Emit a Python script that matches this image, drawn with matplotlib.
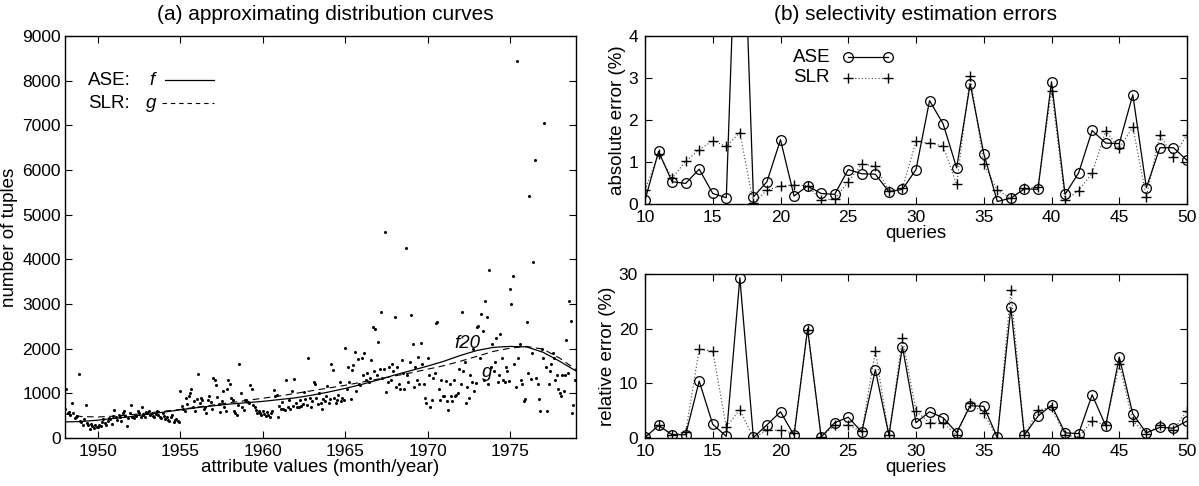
import matplotlib
matplotlib.use("Agg")
import matplotlib.pyplot as plt
import numpy as np

plt.rcParams['font.family'] = ['Liberation Sans', 'DejaVu Sans']
plt.rcParams['font.size'] = 12.5

# ---- (a) monthly tuple counts, Jan 1948 .. Dec 1978 (one row per year) ----
counts = [
    640, 1090, 560, 590, 520, 780, 560, 450, 480, 500, 1440, 380,      # 1948
    350, 300, 420, 750, 330, 280, 200, 310, 260, 230, 280, 250,        # 1949
    240, 300, 260, 350, 420, 330, 300, 380, 450, 420, 320, 500,        # 1950
    620, 480, 400, 520, 460, 380, 550, 600, 500, 270, 450, 550,        # 1951
    730, 480, 450, 520, 500, 600, 560, 470, 690, 520, 480, 580,        # 1952
    560, 600, 520, 560, 500, 480, 540, 600, 520, 470, 450, 560,        # 1953
    500, 420, 460, 400, 380, 480, 520, 350, 400, 420, 380, 360,        # 1954
    1050, 720, 650, 600, 900, 760, 950, 1000, 1100, 700, 820, 600,     # 1955
    880, 1440, 780, 900, 850, 650, 700, 570, 850, 950, 800, 660,       # 1956
    1350, 1300, 1180, 920, 760, 580, 820, 1050, 700, 600, 1100, 1300,  # 1957
    1200, 900, 850, 600, 560, 520, 750, 1660, 1000, 700, 620, 850,     # 1958
    850, 800, 780, 1180, 1100, 750, 700, 620, 560, 600, 550, 520,      # 1959
    600, 540, 500, 580, 520, 480, 560, 600, 1080, 950, 960, 480,       # 1960
    720, 660, 800, 640, 620, 1290, 700, 860, 640, 1050, 720, 1310,     # 1961
    780, 700, 690, 860, 720, 760, 1020, 870, 740, 1780, 900, 700,      # 1962
    820, 1260, 1200, 900, 760, 1000, 780, 640, 870, 820, 950, 1160,    # 1963
    780, 880, 1660, 1520, 900, 780, 850, 960, 1250, 820, 900, 860,     # 1964
    2020, 1100, 1600, 1260, 880, 1520, 1640, 1920, 1050, 1760, 1200, 1180,  # 1965
    1780, 1400, 1900, 1300, 1450, 1250, 1350, 1740, 2480, 1500, 2440, 1400,  # 1966
    2140, 1550, 2820, 1350, 1550, 4620, 1030, 1250, 1600, 1300, 1650, 1500,  # 1967
    2720, 1150, 1600, 1200, 1100, 1750, 1450, 1100, 4250, 1400, 1250, 1700,  # 1968
    2750, 2100, 1150, 1600, 1300, 1810, 1200, 2120, 1650, 1200, 900, 780,    # 1969
    1800, 1400, 700, 850, 1350, 1450, 2570, 2600, 1100, 850, 1300, 930,      # 1970
    940, 1270, 830, 620, 1200, 930, 820, 1300, 950, 960, 1000, 1550,         # 1971
    1200, 2830, 1500, 1700, 780, 1150, 900, 1400, 1250, 2000, 1050, 1230,    # 1972
    2480, 2500, 1800, 2780, 2400, 1300, 3070, 2700, 1200, 3770, 1600, 2100,  # 1973
    1500, 1700, 2250, 1250, 1400, 2330, 1800, 1300, 1250, 1600, 1500, 1280,  # 1974
    3340, 2990, 3620, 1650, 1150, 8440, 1800, 2100, 1300, 1200, 830, 880,    # 1975
    2590, 1450, 5420, 1330, 1900, 3930, 6230, 1350, 1200, 870, 610, 2000,    # 1976
    1800, 7050, 1600, 610, 1200, 1500, 1650, 1900, 1800, 1300, 1400, 1100,   # 1977
    1000, 950, 1400, 1050, 1400, 2200, 1450, 3070, 2630, 550, 740, 1300,     # 1978
]
start_year = 1948

# approximating curves, one value per year 1948..1979
curve_years = list(range(1948, 1980))
f_curve = [360, 370, 400, 440, 480, 530, 580, 630, 680, 720, 760, 790, 820, 860,
           900, 960, 1030, 1110, 1200, 1300, 1410, 1510, 1610, 1720, 1850, 1960,
           2030, 2050, 2040, 1920, 1720, 1500]
g_curve = [540, 480, 470, 490, 520, 560, 600, 640, 690, 740, 790, 840, 890, 940,
           1000, 1060, 1120, 1180, 1250, 1320, 1390, 1460, 1540, 1620, 1720, 1830,
           1940, 2010, 2050, 1990, 1790, 1530]

# ---- (b) selectivity estimation errors, queries 10..50 ----
queries = list(range(10, 51))
ase_abs = [0.09, 1.25, 0.53, 0.49, 0.83, 0.25, 0.15, 9.5, 0.17, 0.53, 1.53, 0.19,
           0.43, 0.25, 0.23, 0.82, 0.72, 0.71, 0.29, 0.35, 0.82, 2.46, 1.91, 0.86,
           2.86, 1.2, 0.06, 0.14, 0.36, 0.35, 2.91, 0.23, 0.74, 1.75, 1.45, 1.44,
           2.6, 0.39, 1.34, 1.34, 1.04]
slr_abs = [0.33, 1.2, 0.61, 1.02, 1.29, 1.51, 1.37, 1.7, 0.02, 0.33, 0.43, 0.45,
           0.44, 0.09, 0.12, 0.53, 0.95, 0.9, 0.32, 0.37, 1.49, 1.45, 1.38, 0.47,
           3.05, 0.96, 0.33, 0.14, 0.37, 0.41, 2.7, 0.09, 0.32, 0.73, 1.74, 1.33,
           1.83, 0.17, 1.65, 1.12, 1.65]
ase_rel = [0.1, 2.3, 0.6, 0.6, 10.4, 2.5, 0.3, 29.3, 0.1, 2.4, 4.8, 0.5, 20.0,
           0.2, 2.8, 3.8, 1.1, 12.5, 0.5, 16.7, 2.8, 4.8, 3.7, 1.0, 5.9, 5.8, 0.1,
           23.9, 0.5, 4.0, 6.0, 0.95, 0.8, 7.9, 2.25, 14.8, 4.4, 0.95, 1.95, 1.8, 3.1]
slr_rel = [0.1, 2.3, 0.6, 1.1, 16.2, 15.9, 2.0, 5.2, 0.0, 1.4, 1.4, 0.9, 19.7,
           0.2, 2.3, 2.4, 1.2, 15.9, 0.5, 18.3, 4.9, 2.8, 2.8, 0.5, 6.4, 4.5, 0.0,
           27.1, 0.5, 5.1, 5.6, 0.5, 0.2, 3.1, 2.4, 13.5, 3.1, 0.8, 2.4, 1.5, 5.0]

W, H = 1199, 486
fig = plt.figure(figsize=(W / 100, H / 100), dpi=100)


def box(l, t, r, b):
    return [l / W, 1 - b / H, (r - l) / W, (b - t) / H]


def style(ax, ypad=3):
    ax.tick_params(direction='in', top=True, right=True, length=5, width=0.8,
                   labelsize=12.5, pad=ypad)
    ax.tick_params(axis='x', pad=4)
    for s in ax.spines.values():
        s.set_linewidth(1.0)


LBL = 13.5

# (a)
ax = fig.add_axes(box(65, 36, 576, 438))
months = start_year + np.arange(len(counts)) / 12.0
ax.plot(months, counts, 'o', color='black', ms=2.2, mew=0)
ax.plot(curve_years, f_curve, '-', color='black', lw=0.9)
ax.plot(curve_years, g_curve, '--', color='black', lw=0.8, dashes=(6, 4))
ax.set_xlim(1948, 1979)
ax.set_ylim(0, 9000)
ax.set_xticks([1950, 1955, 1960, 1965, 1970, 1975])
ax.set_yticks(range(0, 9001, 1000))
ax.set_xlabel("attribute values (month/year)", fontsize=LBL, labelpad=0)
ax.set_ylabel("number of tuples", fontsize=LBL, labelpad=3)
style(ax)
ax.text(0.045, 0.89, "ASE:", transform=ax.transAxes, va='center', fontsize=LBL)
ax.text(0.165, 0.89, "f", transform=ax.transAxes, va='center', fontsize=LBL, style='italic')
ax.plot([0.195, 0.292], [0.89, 0.89], '-', color='black', lw=0.9, transform=ax.transAxes)
ax.text(0.045, 0.833, "SLR:", transform=ax.transAxes, va='center', fontsize=LBL)
ax.text(0.158, 0.833, "g", transform=ax.transAxes, va='center', fontsize=LBL, style='italic')
ax.plot([0.19, 0.292], [0.833, 0.833], '--', color='black', lw=0.8, dashes=(4, 3.5),
        transform=ax.transAxes)
ax.text(1971.6, 2110, "f20", fontsize=LBL, style='italic', va='center')
ax.text(1973.3, 1460, "g", fontsize=LBL, style='italic', va='center')

# (b) top
ax1 = fig.add_axes(box(645, 36, 1187, 204))
ax1.plot(queries, slr_abs, color='0.25', lw=0.8, ls=(0, (1, 2)), marker='+', ms=7,
         mew=1.0, mec='black')
ax1.plot(queries, ase_abs, '-', color='black', lw=0.9, marker='o', ms=7,
         mfc='none', mew=0.9)
ax1.set_xlim(10, 50)
ax1.set_ylim(0, 4)
ax1.set_xticks(range(10, 51, 5))
ax1.set_yticks(range(0, 5))
ax1.set_xlabel("queries", fontsize=LBL, labelpad=0)
ax1.set_ylabel("absolute error (%)", fontsize=LBL, labelpad=2)
style(ax1, ypad=5)
ax1.text(0.273, 0.875, "ASE", transform=ax1.transAxes, va='center', fontsize=LBL)
ax1.plot([0.375, 0.448], [0.875, 0.875], '-', color='black', lw=0.9, marker='o', ms=7,
         mfc='none', mew=0.9, transform=ax1.transAxes)
ax1.text(0.273, 0.75, "SLR", transform=ax1.transAxes, va='center', fontsize=LBL)
ax1.plot([0.375, 0.448], [0.75, 0.75], color='0.25', lw=0.8, ls=(0, (1, 2)), marker='+',
         ms=7, mew=1.0, mec='black', transform=ax1.transAxes)

# (b) bottom
ax2 = fig.add_axes(box(645, 274, 1187, 438))
ax2.plot(queries, slr_rel, color='0.25', lw=0.8, ls=(0, (1, 2)), marker='+', ms=7,
         mew=1.0, mec='black')
ax2.plot(queries, ase_rel, '-', color='black', lw=0.9, marker='o', ms=7,
         mfc='none', mew=0.9)
ax2.set_xlim(10, 50)
ax2.set_ylim(0, 30)
ax2.set_xticks(range(10, 51, 5))
ax2.set_yticks([0, 10, 20, 30])
ax2.set_xlabel("queries", fontsize=LBL, labelpad=0)
ax2.set_ylabel("relative error (%)", fontsize=LBL, labelpad=2)
style(ax2, ypad=5)

fig.text(325 / W, 1 - 15 / H, "(a) approximating distribution curves", ha='center',
         va='center', fontsize=15)
fig.text(916 / W, 1 - 15 / H, "(b) selectivity estimation errors", ha='center',
         va='center', fontsize=15)

fig.savefig("out.png", dpi=100)
